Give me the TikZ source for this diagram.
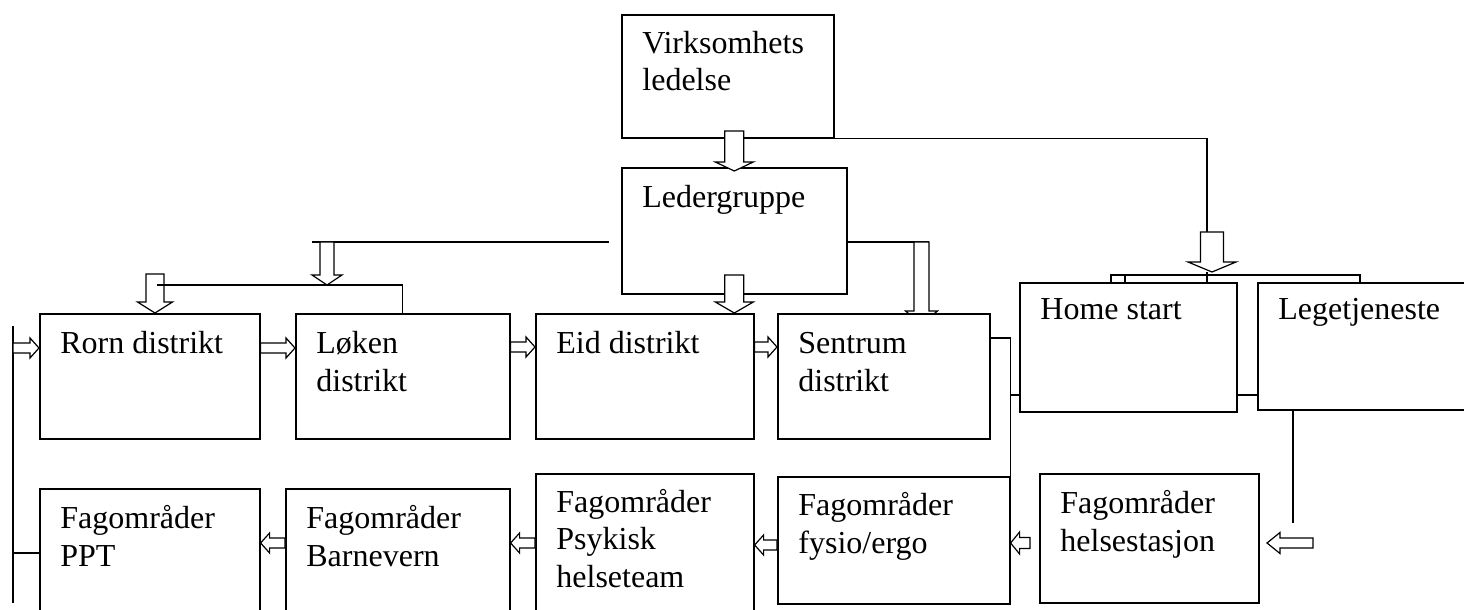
\documentclass[tikz,border=0pt]{standalone}
\usepackage{fontspec}
\setmainfont{Liberation Serif}
\usetikzlibrary{%
  calc,% let ... in
  positioning%
}

% hollow block arrows: tail, tip, shaft half width, head half width, head length
\newcommand{\hollowdown}[5]{%
  \draw[hollow] let \p1=#1, \p2=#2 in
    (\x1-#3,\y1) -- (\x1+#3,\y1) -- (\x1+#3,\y2+#5) -- (\x1+#4,\y2+#5)
    -- (\x1,\y2) -- (\x1-#4,\y2+#5) -- (\x1-#3,\y2+#5) -- cycle;}
\newcommand{\hollowright}[5]{%
  \draw[hollow] let \p1=#1, \p2=#2 in
    (\x1,\y1+#3) -- (\x2-#5,\y1+#3) -- (\x2-#5,\y1+#4) -- (\x2,\y1)
    -- (\x2-#5,\y1-#4) -- (\x2-#5,\y1-#3) -- (\x1,\y1-#3) -- cycle;}
\newcommand{\hollowleft}[5]{%
  \draw[hollow] let \p1=#1, \p2=#2 in
    (\x1,\y1+#3) -- (\x2+#5,\y1+#3) -- (\x2+#5,\y1+#4) -- (\x2,\y1)
    -- (\x2+#5,\y1-#4) -- (\x2+#5,\y1-#3) -- (\x1,\y1-#3) -- cycle;}

\begin{document}
\begin{tikzpicture}[x=0.5pt,y=-0.5pt,
  box/.style={draw,fill=white,line width=0.8pt,anchor=north west,inner sep=0pt},
  lbl/.style={anchor=base west,align=left,inner sep=0pt,
    font=\fontsize{16pt}{18.75pt}\selectfont},
  conn/.style={line width=0.6pt},
  hollow/.style={draw,fill=white,line width=0.6pt,line join=miter}]
 \useasboundingbox (0,0) rectangle (1464,610);
 \clip (0,0) rectangle (1464,610);

 % Ledelse  (lbl: base = siste linje)
 \node[box,minimum width=106pt,minimum height=61.5pt] (virk) at (621,14) {};
 \node[box,minimum width=112.5pt,minimum height=63pt] (lg) at (621,167) {};
 \node[lbl] (virkT) at (642,91) {Virksomhets\\ledelse};
 \node[lbl] (lgT) at (642,208) {Ledergruppe};

 % linjer fra ledergruppe
 \coordinate (lgLeft) at (609,242);
 \coordinate (lgArrowL) at (312,242);
 \draw[conn] (lgLeft) -- (lgArrowL);
 \draw[conn] (lg.east |- 0,242) -- (929,242);
 \hollowdown{(921.5,242)}{(921.5,324)}{3.75pt}{8pt}{6.5pt}

 % distrikter
 \node[box,minimum width=110pt,minimum height=62.5pt] (rorn) at (39,313) {};
 \node[box,minimum width=107pt,minimum height=62.5pt] (loeken) at (295,313) {};
 \node[box,minimum width=109pt,minimum height=62.5pt] (eid) at (535,313) {};
 \node[box,minimum width=106pt,minimum height=62.5pt] (sentrum) at (777,313) {};
 \node[lbl] (rornT) at (60,353) {Rorn distrikt};
 \node[lbl] (loekenT) at (316,391) {Løken\\distrikt};
 \node[lbl] (eidT) at (556,353) {Eid distrikt};
 \node[lbl] (sentrumT) at (798,391) {Sentrum\\distrikt};

 % Home start / Legetjeneste
 \node[box,minimum width=108.5pt,minimum height=64.5pt] (home) at (1019,282) {};
 \node[box,minimum width=111.5pt,minimum height=63.5pt] (lege) at (1257,282) {};
 \node[lbl] (homeT) at (1040,320) {Home start};
 \node[lbl] (legeT) at (1278,320) {Legetjeneste};

 % fagomraader
 \node[box,minimum width=110pt,minimum height=68.5pt] (ppt) at (39,488) {};
 \node[box,minimum width=112pt,minimum height=68.5pt] (barn) at (285,488) {};
 \node[box,minimum width=109pt,minimum height=76pt] (psyk) at (535,473) {};
 \node[box,minimum width=116pt,minimum height=63.5pt] (fysio) at (777,476) {};
 \node[box,minimum width=109.5pt,minimum height=64.5pt] (helse) at (1039,473) {};
 \node[lbl] (pptT) at (60,566) {Fagområder\\PPT};
 \node[lbl] (barnT) at (306,566) {Fagområder\\Barnevern};
 \node[lbl] (psykT) at (556,587) {Fagområder\\Psykisk\\helseteam};
 \node[lbl] (fysioT) at (798,553) {Fagområder\\fysio/ergo};
 \node[lbl] (helseT) at (1060,551) {Fagområder\\helsestasjon};

 % linjer
 \coordinate (homeTop) at (1207,232);
 \draw[conn] (virk.south east) -| (homeTop);
 \draw[conn] (157,285) -| (loeken.north);
 \draw[conn] (sentrum.east |- 0,338) -| (fysio.north east);
 \draw[conn] (fysio.north east |- 0,395) -- (home.west |- 0,395);
 \draw[conn] (home.east |- 0,395) -- (lege.west |- 0,395);
 \draw[conn] (1111,0 |- home.north) -- (1111,275) -- (1360,275) -- (1360,0 |- home.north);
 \draw[conn] (1125,275) -- (1125,0 |- home.north);
 \draw[conn] (1207,272) -- (1207,0 |- home.north);
 \draw[conn] (1293,0 |- lege.south) -- (1293,523);
 \draw[conn] (13,326) -- (13,603);
 \draw[conn] (13,553) -- (ppt.west |- 0,553);

 % piler ned
 \hollowdown{(lg.north |- 0,131)}{(lg.north |- 0,171)}{4.75pt}{9.5pt}{4.5pt}
 \hollowdown{(lg.south |- 0,275)}{(lg.south |- eid.north)}{4.75pt}{9.5pt}{5.5pt}
 \hollowdown{(155,274)}{(155,0 |- rorn.north)}{4.5pt}{8.75pt}{5.5pt}
 \hollowdown{(327,242)}{(328,285)}{3.5pt}{7.5pt}{5pt}
 \hollowdown{(1212,232)}{(1212,272)}{5.75pt}{12pt}{5pt}
 \draw[conn] (157,285) -- (loeken.north |- 0,285);

 % piler mot hoyre
 \hollowright{(13,348)}{(rorn.west |- 0,348)}{2.5pt}{5pt}{4.5pt}
 \hollowright{(rorn.east |- 0,348)}{(loeken.west |- 0,348)}{2.5pt}{5pt}{4.5pt}
 \hollowright{(loeken.east |- 0,347)}{(eid.west |- 0,347)}{2.5pt}{5pt}{4.5pt}
 \hollowright{(eid.east |- 0,347)}{(sentrum.west |- 0,347)}{2.5pt}{5pt}{4.5pt}

 % piler mot venstre
 \hollowleft{(barn.west |- 0,543)}{(ppt.east |- 0,543)}{2.5pt}{5pt}{4.5pt}
 \hollowleft{(psyk.west |- 0,543)}{(barn.east |- 0,543)}{2.5pt}{5pt}{4.5pt}
 \hollowleft{(fysio.west |- 0,545)}{(psyk.east |- 0,545)}{2.5pt}{5pt}{4.5pt}
 \hollowleft{(1030,543)}{(fysio.east |- 0,543)}{2.75pt}{5.5pt}{4.5pt}
 \hollowleft{(1313,543)}{(1267,543)}{2.5pt}{5.25pt}{6.5pt}
\end{tikzpicture}
\end{document}
